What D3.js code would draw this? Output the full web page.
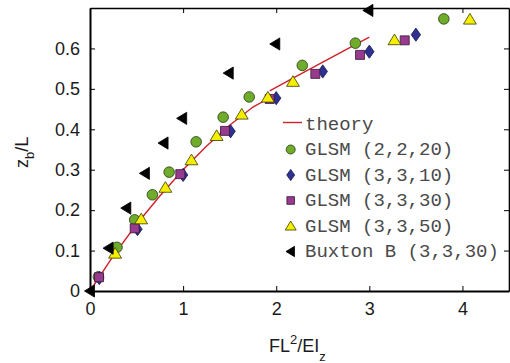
<!DOCTYPE html>
<html>
<head>
<meta charset="utf-8">
<script src="https://cdn.jsdelivr.net/npm/d3@7"></script>
<style>
  html, body { margin: 0; padding: 0; background: #fff; }
  svg { display: block; }
</style>
</head>
<body>
<svg id="chart" width="510" height="363"></svg>
<script>
// Tip deflection z_b/L versus load parameter FL^2/EI_z

const xTickValues = [0, 1, 2, 3, 4];
const yTickValues = [0, 0.1, 0.2, 0.3, 0.4, 0.5, 0.6];
const yTickLabels = ["0", "0.1", "0.2", "0.3", "0.4", "0.5", "0.6"];

// theory curve, two branches either side of the kink near FL^2/EI_z = 1.93
const theoryLowX = [0, 0.25, 0.5, 0.75, 1.0, 1.25, 1.5, 1.75, 1.93];
const theoryLowY = [0, 0.087, 0.165, 0.235, 0.300, 0.358, 0.410, 0.455, 0.478];
const theoryHighX = [1.93, 2.2, 2.5, 2.8, 3.0];
const theoryHighY = [0.495, 0.529, 0.566, 0.603, 0.628];

// GLSM (2,2,20)
const glsm2220X = [0.09, 0.29, 0.48, 0.67, 0.85, 1.14, 1.43, 1.71, 2.28, 2.85, 3.80];
const glsm2220Y = [0.035, 0.108, 0.176, 0.238, 0.294, 0.369, 0.430, 0.480, 0.558, 0.613, 0.673];
// GLSM (3,3,10)
const glsm3310X = [0.10, 0.51, 1.00, 1.51, 2.00, 2.50, 3.00, 3.50];
const glsm3310Y = [0.032, 0.153, 0.287, 0.395, 0.477, 0.543, 0.592, 0.634];
// GLSM (3,3,30)
const glsm3330X = [0.097, 0.48, 0.97, 1.45, 1.93, 2.42, 2.90, 3.38];
const glsm3330Y = [0.034, 0.155, 0.289, 0.396, 0.475, 0.537, 0.584, 0.620];
// GLSM (3,3,50)
const glsm3350X = [0.27, 0.55, 0.81, 1.09, 1.36, 1.63, 1.91, 2.18, 3.27, 4.08];
const glsm3350Y = [0.093, 0.178, 0.256, 0.324, 0.384, 0.437, 0.479, 0.518, 0.621, 0.672];
// Buxton B (3,3,30)
const buxtonX = [0, 0.20, 0.39, 0.59, 0.79, 0.99, 1.49, 1.99, 2.99];
const buxtonY = [0, 0.106, 0.205, 0.291, 0.366, 0.427, 0.539, 0.611, 0.694];

const legendLabels = ["theory", "GLSM (2,2,20)", "GLSM (3,3,10)", "GLSM (3,3,30)", "GLSM (3,3,50)", "Buxton B (3,3,30)"];

const margin = { left: 90, right: 1, top: 8, bottom: 72 };
const W = 510, H = 363;
const svg = d3.select("#chart");

const x = d3.scaleLinear().domain([0, 4.5]).range([margin.left, W - margin.right]);
const y = d3.scaleLinear().domain([0, 0.7]).range([H - margin.bottom, margin.top]);

const zip = (xs, ys) => xs.map((v, i) => [v, ys[i]]);

// marker shapes (centred at origin)
const shapes = {
  circle: r => `M${r},0A${r},${r} 0 1,1 ${-r},0A${r},${r} 0 1,1 ${r},0Z`,
  diamond: r => `M0,${-r * 1.2}L${r * 0.85},0L0,${r * 1.2}L${-r * 0.85},0Z`,
  square: r => `M${-r * 0.9},${-r * 0.9}H${r * 0.9}V${r * 0.9}H${-r * 0.9}Z`,
  triangle: r => `M0,${-r * 1.05}L${r * 1.15},${r * 0.85}L${-r * 1.15},${r * 0.85}Z`,
  triLeft: r => `M${-r * 1.05},0L${r * 0.85},${-r * 1.15}L${r * 0.85},${r * 1.15}Z`
};

const series = [
  { name: legendLabels[1], pts: zip(glsm2220X, glsm2220Y), shape: "circle", fill: "#6fac2c", stroke: "#2a3a10", r: 5.3 },
  { name: legendLabels[2], pts: zip(glsm3310X, glsm3310Y), shape: "diamond", fill: "#2e3192", stroke: "#15174a", r: 5.5 },
  { name: legendLabels[3], pts: zip(glsm3330X, glsm3330Y), shape: "square", fill: "#963b8e", stroke: "#3a1636", r: 5.0 },
  { name: legendLabels[4], pts: zip(glsm3350X, glsm3350Y), shape: "triangle", fill: "#f5ee00", stroke: "#3a3a00", r: 5.6 },
  { name: legendLabels[5], pts: zip(buxtonX, buxtonY), shape: "triLeft", fill: "#000", stroke: "#000", r: 5.3 }
];

// theory line
const line = d3.line().x(d => x(d[0])).y(d => y(d[1]));
[zip(theoryLowX, theoryLowY), zip(theoryHighX, theoryHighY)].forEach(seg => {
  svg.append("path").attr("d", line(seg))
    .attr("fill", "none").attr("stroke", "#d0202a").attr("stroke-width", 1.4);
});

// markers
series.forEach(s => {
  svg.append("g").selectAll("path").data(s.pts).join("path")
    .attr("transform", d => `translate(${x(d[0])},${y(d[1])})`)
    .attr("d", shapes[s.shape](s.r))
    .attr("fill", s.fill).attr("stroke", s.stroke).attr("stroke-width", 0.8);
});

// axes with inward ticks on all four sides
const fontTick = "'Liberation Sans', Arial, sans-serif";
const gB = svg.append("g").attr("transform", `translate(0,${y(0)})`)
  .call(d3.axisBottom(x).tickValues(xTickValues).tickFormat(d3.format("d"))
    .tickSizeInner(-5).tickSizeOuter(0).tickPadding(11));
const gL = svg.append("g").attr("transform", `translate(${x(0)},0)`)
  .call(d3.axisLeft(y).tickValues(yTickValues).tickFormat((d, i) => yTickLabels[i])
    .tickSizeInner(-5).tickSizeOuter(0).tickPadding(10));
const gT = svg.append("g").attr("transform", `translate(0,${y(0.7)})`)
  .call(d3.axisTop(x).tickValues(xTickValues).tickFormat("")
    .tickSizeInner(-5).tickSizeOuter(0));
const gR = svg.append("g").attr("transform", `translate(${x(4.5)},0)`)
  .call(d3.axisRight(y).tickValues(yTickValues).tickFormat("")
    .tickSizeInner(-5).tickSizeOuter(0));

[gB, gL, gT, gR].forEach(g => {
  g.select(".domain").attr("stroke", "#000").attr("stroke-width", 1.6);
  g.selectAll(".tick line").attr("stroke", "#000").attr("stroke-width", 1);
  g.selectAll("text").attr("font-family", fontTick).attr("font-size", 18).attr("fill", "#1a1a1a");
});
gB.select(".domain").attr("stroke-width", 2.2);
gL.select(".domain").attr("stroke-width", 2);

// axis titles
const xt = svg.append("text").attr("x", 269).attr("y", 352)
  .attr("font-family", fontTick).attr("font-size", 18).attr("fill", "#1a1a1a");
xt.append("tspan").text("FL");
xt.append("tspan").attr("font-size", 13).attr("dy", -8).text("2");
xt.append("tspan").attr("dy", 8).text("/EI");
xt.append("tspan").attr("font-size", 13).attr("dy", 9).text("z");

const yt = svg.append("text").attr("transform", "translate(28,168) rotate(-90)")
  .attr("font-family", fontTick).attr("font-size", 18).attr("fill", "#1a1a1a");
yt.append("tspan").text("z");
yt.append("tspan").attr("font-size", 13).attr("dy", 6).text("b");
yt.append("tspan").attr("dy", -6).text("/L");

// legend
const legX = 290.7, legTextX = 305, legRow0 = 129.5, legStep = 25.5;
const leg = svg.append("g");
legendLabels.forEach((lab, i) => {
  const by = legRow0 + i * legStep;
  leg.append("text").attr("x", legTextX).attr("y", by)
    .attr("font-family", "'Liberation Mono', 'Courier New', monospace")
    .attr("font-size", 19).attr("fill", "#4a4a4a").text(lab);
  if (i === 0) {
    leg.append("line").attr("x1", 283).attr("x2", 302).attr("y1", by - 7).attr("y2", by - 7)
      .attr("stroke", "#d0202a").attr("stroke-width", 1.4);
  } else {
    const s = series[i - 1];
    leg.append("path").attr("transform", `translate(${legX},${by - 5.5})`)
      .attr("d", shapes[s.shape](s.r * 0.85))
      .attr("fill", s.fill).attr("stroke", s.stroke).attr("stroke-width", 0.8);
  }
});
</script>
</body>
</html>
